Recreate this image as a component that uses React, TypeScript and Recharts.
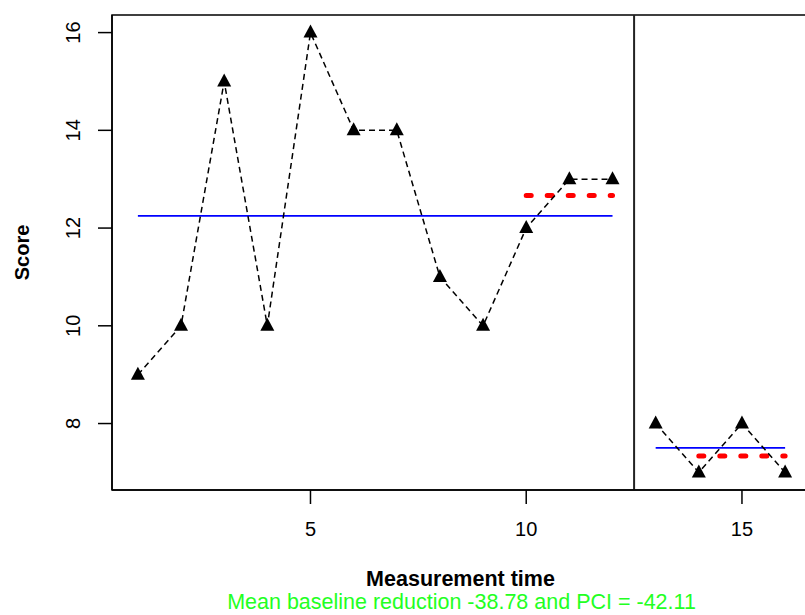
import React from "react";
import {
  ComposedChart,
  Line,
  XAxis,
  YAxis,
  ReferenceLine,
  ReferenceArea,
} from "recharts";

const phaseA = [9, 10, 15, 10, 16, 14, 14, 11, 10, 12, 13, 13];
const phaseB = [8, 7, 8, 7];
const xTicks = [5, 10, 15];
const yTicks = [8, 10, 12, 14, 16];
const xLabel = "Measurement time";
const yLabel = "Score";
const note = "Mean baseline reduction -38.78 and PCI = -42.11";

const font = "'Liberation Sans', Arial, sans-serif";

const mean = (v: number[]) => v.reduce((s, x) => s + x, 0) / v.length;

const data = [
  ...phaseA.map((v, i) => ({ t: i + 1, a: v, b: null as number | null })),
  ...phaseB.map((v, i) => ({ t: phaseA.length + i + 1, a: null as number | null, b: v })),
];

const meanA = mean(phaseA);
const lastA = mean(phaseA.slice(-3));
const meanB = mean(phaseB);
const lastB = mean(phaseB.slice(-3));
const startB = phaseA.length + 1;
const endB = phaseA.length + phaseB.length;

// filled triangle like R's pch = 17
const Triangle = (props: any) => {
  const { cx, cy } = props;
  if (cx == null || cy == null || props.value == null) return null;
  return (
    <polygon
      points={`${cx},${cy - 8} ${cx - 7},${cy + 5} ${cx + 7},${cy + 5}`}
      fill="#000"
    />
  );
};

const YTick = (props: any) => {
  const { y, payload } = props;
  return (
    <text
      x={80}
      y={y}
      transform={`rotate(-90, 80, ${y})`}
      textAnchor="middle"
      fontSize={20}
      fontFamily={font}
      fill="#000"
    >
      {payload.value}
    </text>
  );
};

export default function App() {
  return (
    <div
      style={{
        position: "absolute",
        left: 0,
        top: 0,
        width: 805,
        height: 615,
        overflow: "hidden",
        background: "#fff",
      }}
    >
      <ComposedChart
        width={820}
        height={615}
        data={data}
        margin={{ top: 15, right: 9, bottom: 65, left: 0 }}
      >
        <XAxis
          dataKey="t"
          type="number"
          domain={[0.4, 16.6]}
          ticks={xTicks}
          allowDataOverflow
          height={60}
          tickSize={14}
          tickMargin={18}
          stroke="#000"
          strokeWidth={1.5}
          tick={{ fontSize: 20, fill: "#000", fontFamily: font }}
          label={(p: any) => {
            const vb = p.viewBox;
            const cx = 112 + 699 / 2;
            return (
              <g>
                <text
                  x={cx - 1}
                  y={vb.y + 96}
                  textAnchor="middle"
                  fontSize={21.5}
                  fontWeight="bold"
                  fontFamily={font}
                  fill="#000"
                >
                  {xLabel}
                </text>
                <text
                  x={cx}
                  y={vb.y + 119}
                  textAnchor="middle"
                  fontSize={21.5}
                  fontFamily={font}
                  fill="#22ff22"
                >
                  {note}
                </text>
              </g>
            );
          }}
        />
        <YAxis
          type="number"
          domain={[6.64, 16.36]}
          ticks={yTicks}
          allowDataOverflow
          width={112}
          tickSize={14}
          stroke="#000"
          strokeWidth={1.5}
          tick={<YTick />}
          label={(p: any) => {
            const vb = p.viewBox;
            const cy = vb.y + vb.height / 2;
            return (
              <text
                x={29}
                y={cy}
                transform={`rotate(-90, 29, ${cy})`}
                textAnchor="middle"
                fontSize={20}
                fontWeight="bold"
                fontFamily={font}
                fill="#000"
              >
                {yLabel}
              </text>
            );
          }}
        />
        <ReferenceArea
          x1={0.4}
          x2={16.6}
          y1={6.64}
          y2={16.36}
          fill="none"
          fillOpacity={0}
          stroke="#000"
          strokeWidth={1.5}
        />
        <ReferenceLine x={12.5} stroke="#222" strokeWidth={2} />
        <ReferenceLine
          segment={[
            { x: 1, y: meanA },
            { x: phaseA.length, y: meanA },
          ]}
          stroke="#0000ff"
          strokeWidth={1.8}
        />
        <ReferenceLine
          segment={[
            { x: phaseA.length - 2, y: lastA },
            { x: phaseA.length, y: lastA },
          ]}
          stroke="#ff0000"
          strokeWidth={5}
          strokeDasharray="5 16"
          strokeLinecap="round"
        />
        <ReferenceLine
          segment={[
            { x: startB, y: meanB },
            { x: endB, y: meanB },
          ]}
          stroke="#0000ff"
          strokeWidth={1.8}
        />
        <ReferenceLine
          segment={[
            { x: endB - 2, y: lastB },
            { x: endB, y: lastB },
          ]}
          stroke="#ff0000"
          strokeWidth={5}
          strokeDasharray="5 16"
          strokeLinecap="round"
        />
        <Line
          dataKey="a"
          stroke="#000"
          strokeWidth={1.5}
          strokeDasharray="6 4"
          dot={<Triangle />}
          activeDot={false}
          isAnimationActive={false}
        />
        <Line
          dataKey="b"
          stroke="#000"
          strokeWidth={1.5}
          strokeDasharray="6 4"
          dot={<Triangle />}
          activeDot={false}
          isAnimationActive={false}
        />
      </ComposedChart>
    </div>
  );
}
